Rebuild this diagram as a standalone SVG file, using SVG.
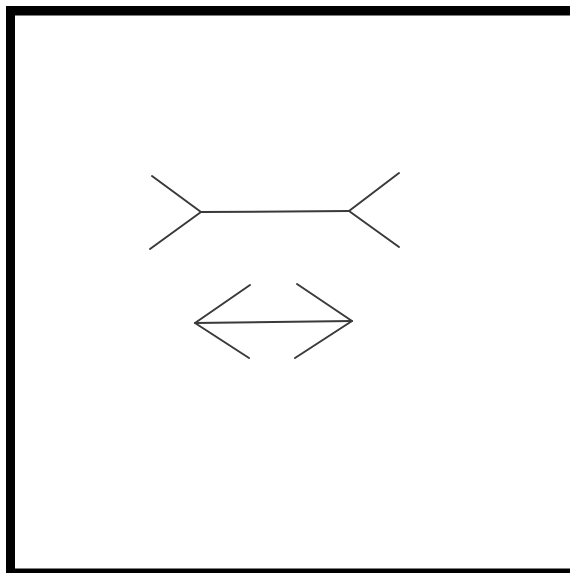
<svg xmlns="http://www.w3.org/2000/svg" width="570" height="573" viewBox="0 0 570 573">
<style>
.ln{stroke:#3a3a3a;stroke-width:2;fill:none;stroke-linecap:round;stroke-linejoin:round}
.bd{fill:#000}
</style>
<rect width="570" height="573" fill="#fff"/>
<g id="frame">
<rect class="bd" x="6" y="6" width="564" height="9.5"/>
<rect class="bd" x="6" y="6" width="9" height="567"/>
<rect class="bd" x="6" y="568.5" width="564" height="4.5"/>
</g>
<g id="upper-figure">
<polyline class="ln" points="152,176 201,212 150,249"/>
<line class="ln" x1="201" y1="212" x2="349" y2="211"/>
<polyline class="ln" points="399,173 349,211 399,247"/>
</g>
<g id="lower-figure">
<polyline class="ln" points="250,285 195,323 249,358"/>
<line class="ln" x1="195" y1="323" x2="352" y2="321"/>
<polyline class="ln" points="297,284 352,321 295,358"/>
</g>
</svg>
